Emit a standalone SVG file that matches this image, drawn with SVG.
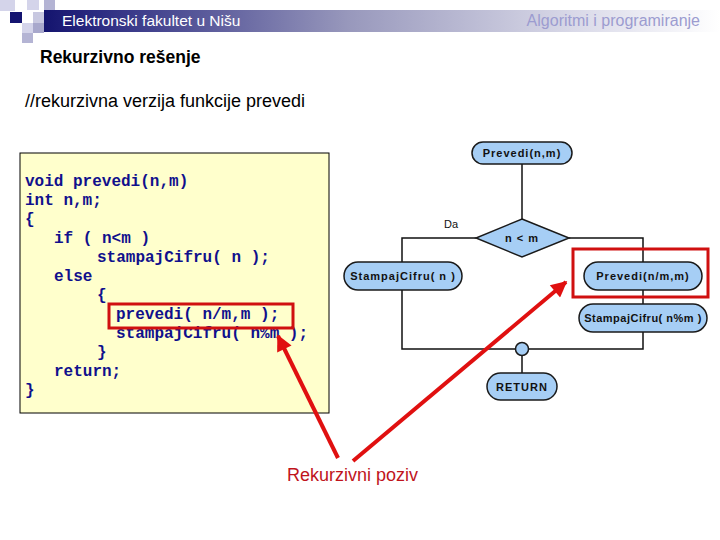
<svg xmlns="http://www.w3.org/2000/svg" width="720" height="540" viewBox="0 0 720 540">
<defs>
<linearGradient id="bar" x1="0" y1="0" x2="1" y2="0">
<stop offset="0" stop-color="#14146e"/>
<stop offset="0.08" stop-color="#2c2c82"/>
<stop offset="0.45" stop-color="#9898bc"/>
<stop offset="0.8" stop-color="#dcdcea"/>
<stop offset="1" stop-color="#ffffff"/>
</linearGradient>
<marker id="ah" viewBox="0 0 10 10" refX="9" refY="5" markerWidth="4.5" markerHeight="4" orient="auto" markerUnits="strokeWidth">
<path d="M0,0 L10,5 L0,10 z" fill="#e01010"/>
</marker>
<style>
.node{fill:#a6cef5;stroke:#1a1a1a;stroke-width:1.5}
.nt{font-family:"Liberation Sans",Arial,sans-serif;font-weight:bold;font-size:11px;letter-spacing:1px;fill:#111;text-anchor:middle}
.ln{stroke:#111;stroke-width:1.5;fill:none}
.code{font-family:"Liberation Mono","Courier New",monospace;font-weight:bold;font-size:16px;fill:#10108c}
.red{stroke:#e01010;stroke-width:4;fill:none}
.rbox{stroke:#d01010;stroke-width:3;fill:none}
</style>
</defs>
<rect width="720" height="540" fill="#ffffff"/>
<g id="header">
<rect x="44" y="10" width="676" height="22" fill="url(#bar)"/>
<rect x="0" y="0" width="15" height="11" fill="#d4d4ea"/>
<rect x="27" y="0" width="12" height="10" fill="#d4d4ea"/>
<rect x="44" y="0" width="11" height="10" fill="#b4b4d4"/>
<rect x="10" y="12" width="12" height="11" fill="#141470"/>
<rect x="33" y="12" width="11" height="11" fill="#c8c8e0"/>
<rect x="22" y="23" width="11" height="10" fill="#d4d4ea"/>
<rect x="33" y="23" width="11" height="10" fill="#a8a8cc"/>
<rect x="22" y="33" width="11" height="10" fill="#b4b4d4"/>
<text x="62" y="26" font-family="Liberation Sans,Arial,sans-serif" font-size="15.5" fill="#ffffff">Elektronski fakultet u Nišu</text>
<text x="700" y="26" font-family="Liberation Sans,Arial,sans-serif" font-size="16" fill="#9c9cd0" text-anchor="end">Algoritmi i programiranje</text>
</g>
<text x="40" y="63" font-family="Liberation Sans,Arial,sans-serif" font-size="17.5" font-weight="bold" fill="#000">Rekurzivno rešenje</text>
<text x="25" y="107" font-family="Liberation Sans,Arial,sans-serif" font-size="18" fill="#000">//rekurzivna verzija funkcije prevedi</text>
<g id="code">
<rect x="20" y="153" width="309" height="260" fill="#ffffcc" stroke="#000" stroke-width="1"/>
<text class="code" x="25" y="186">void prevedi(n,m)</text>
<text class="code" x="25" y="205">int n,m;</text>
<text class="code" x="25" y="224">{</text>
<text class="code" x="54" y="243">if ( n&lt;m )</text>
<text class="code" x="97" y="262">stampajCifru( n );</text>
<text class="code" x="54" y="281">else</text>
<text class="code" x="97" y="300">{</text>
<text class="code" x="116" y="319">prevedi( n/m,m );</text>
<text class="code" x="116" y="338">stampajCifru( n%m );</text>
<text class="code" x="97" y="357">}</text>
<text class="code" x="54" y="376">return;</text>
<text class="code" x="25" y="395">}</text>
<rect class="rbox" x="109" y="304" width="184" height="24"/>
</g>
<g id="connectors">
<line class="ln" x1="522" y1="164" x2="522" y2="219"/>
<polyline class="ln" points="476,238 402,238 402,349 643,349 643,332"/>
<polyline class="ln" points="569,238 643,238 643,262"/>
<line class="ln" x1="643" y1="290" x2="643" y2="304"/>
<line class="ln" x1="522" y1="355" x2="522" y2="373"/>
</g>
<g id="n-start"><rect class="node" x="472" y="142" width="100" height="22" rx="11"/><text class="nt" x="522" y="157">Prevedi(n,m)</text></g>
<g id="n-cond"><polygon class="node" points="522,219 569,238 522,257 476,238"/><text class="nt" x="522" y="242" font-weight="normal">n &lt; m</text></g>
<text x="444" y="228" font-family="Liberation Sans,Arial,sans-serif" font-size="11" fill="#111">Da</text>
<g id="n-print1"><rect class="node" x="344" y="262" width="118" height="28" rx="14"/><text class="nt" x="403" y="280">StampajCifru( n )</text></g>
<g id="n-rec"><rect class="node" x="584" y="262" width="118" height="28" rx="14"/><text class="nt" x="643" y="280">Prevedi(n/m,m)</text></g>
<g id="n-print2"><rect class="node" x="579" y="304" width="128" height="28" rx="14"/><text class="nt" x="643" y="322" style="letter-spacing:0.5px">StampajCifru( n%m )</text></g>
<g id="n-join"><circle class="node" cx="522" cy="349" r="6.5"/></g>
<g id="n-return"><rect class="node" x="487" y="373" width="70" height="27" rx="13.5"/><text class="nt" x="522" y="391">RETURN</text></g>
<g id="annotation">
<rect class="rbox" x="573" y="249" width="135" height="48"/>
<line class="red" x1="338" y1="458" x2="278" y2="336" marker-end="url(#ah)"/>
<line class="red" x1="353" y1="461" x2="566" y2="282" marker-end="url(#ah)"/>
<text x="287" y="481" font-family="Liberation Sans,Arial,sans-serif" font-size="18" fill="#c0141c">Rekurzivni poziv</text>
</g>
</svg>
